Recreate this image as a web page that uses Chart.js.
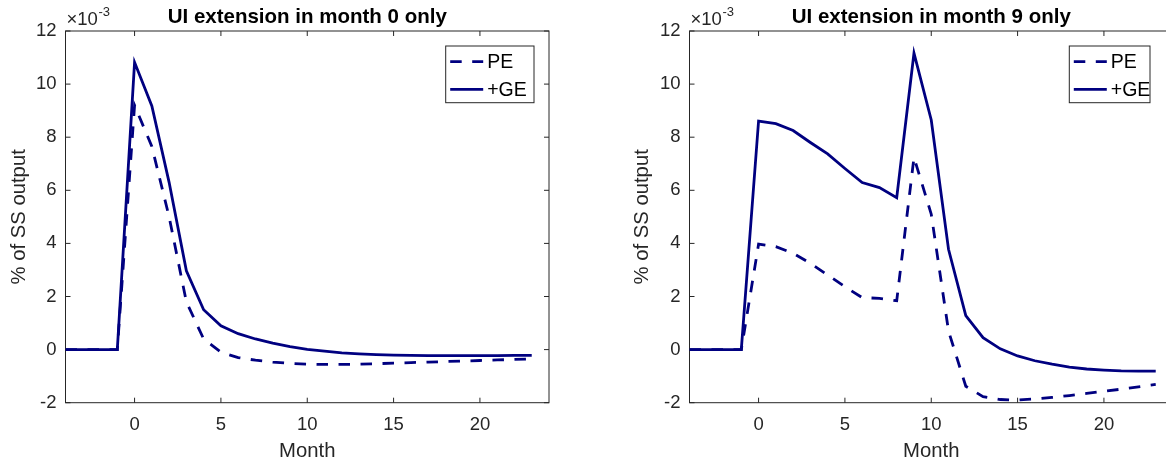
<!DOCTYPE html>
<html>
<head>
<meta charset="utf-8">
<script src="https://cdn.jsdelivr.net/npm/chart.js@4.4.1/dist/chart.umd.min.js"></script>
<style>
  html, body { margin: 0; padding: 0; background: #fff; overflow: hidden; width: 1166px; height: 463px; }
  .panel { position: absolute; top: 0; height: 463px; }
  #p1 { left: 0; width: 583px; }
  #p2 { left: 583px; width: 600px; }
</style>
</head>
<body>
<div class="panel" id="p1"><canvas id="c1"></canvas></div>
<div class="panel" id="p2"><canvas id="c2"></canvas></div>
<script>
// Months relative to the UI extension
const months = [-4, -3, -2, -1, 0, 1, 2, 3, 4, 5, 6, 7, 8, 9, 10, 11, 12, 13, 14, 15, 16, 17, 18, 19, 20, 21, 22, 23];
const xTicks = [0, 5, 10, 15, 20];
const yTicks = [-2, 0, 2, 4, 6, 8, 10, 12];
const seriesNames = ['PE', '+GE'];
const panelTitles = ['UI extension in month 0 only', 'UI extension in month 9 only'];

// Output response, % of steady-state output (x 10^-3)
const peMonth0 = [0, 0, 0, 0, 9.2, 7.65, 5.0, 1.8, 0.4, -0.1, -0.3, -0.4, -0.47, -0.52, -0.55, -0.56, -0.56, -0.55, -0.53, -0.51, -0.49, -0.47, -0.45, -0.43, -0.41, -0.39, -0.37, -0.35];
const geMonth0 = [0, 0, 0, 0, 10.82, 9.18, 6.3, 2.97, 1.5, 0.9, 0.6, 0.4, 0.24, 0.11, 0.01, -0.06, -0.12, -0.16, -0.19, -0.21, -0.22, -0.23, -0.23, -0.23, -0.23, -0.23, -0.22, -0.22];
const peMonth9 = [0, 0, 0, 0, 3.97, 3.88, 3.63, 3.25, 2.81, 2.37, 1.96, 1.93, 1.84, 7.24, 5.1, 0.7, -1.38, -1.77, -1.88, -1.9, -1.86, -1.8, -1.73, -1.65, -1.57, -1.49, -1.4, -1.31];
const geMonth9 = [0, 0, 0, 0, 8.61, 8.51, 8.25, 7.8, 7.37, 6.82, 6.29, 6.1, 5.72, 11.17, 8.65, 3.78, 1.28, 0.45, 0.03, -0.24, -0.42, -0.55, -0.66, -0.73, -0.77, -0.8, -0.81, -0.81];

const FONT = '"Liberation Sans", Arial, Helvetica, sans-serif';
const NAVY = '#000080';
const AXIS = '#262626';
const TICK_SIZE = 18.5;
const LABEL_SIZE = 20.3;

function points(values) {
  return months.map((m, i) => ({ x: m, y: values[i] }));
}

// Axes box with inward ticks on all four sides, exponent label, in-axes legend
const matlabAxes = {
  id: 'matlabAxes',
  beforeDatasetsDraw(chart) {
    const { ctx, chartArea: a, scales: { x, y } } = chart;
    ctx.save();
    ctx.strokeStyle = AXIS;
    ctx.lineWidth = 1;
    ctx.strokeRect(a.left, a.top, a.right - a.left, a.bottom - a.top);
    ctx.beginPath();
    const tl = 5;
    x.ticks.forEach(t => {
      const px = x.getPixelForValue(t.value);
      ctx.moveTo(px, a.bottom); ctx.lineTo(px, a.bottom - tl);
      ctx.moveTo(px, a.top); ctx.lineTo(px, a.top + tl);
    });
    y.ticks.forEach(t => {
      const py = y.getPixelForValue(t.value);
      ctx.moveTo(a.left, py); ctx.lineTo(a.left + tl, py);
      ctx.moveTo(a.right, py); ctx.lineTo(a.right - tl, py);
    });
    ctx.stroke();
    // exponent label
    ctx.fillStyle = AXIS;
    ctx.textBaseline = 'alphabetic';
    ctx.textAlign = 'left';
    ctx.font = TICK_SIZE + 'px ' + FONT;
    const base = '\u00D710';
    ctx.fillText(base, a.left + 1, a.top - 6);
    const w = ctx.measureText(base).width;
    ctx.font = '13px ' + FONT;
    ctx.fillText('-3', a.left + 1 + w + 0.5, a.top - 15);
    ctx.restore();
  },
  afterDatasetsDraw(chart, args, opts) {
    const { ctx, chartArea: a } = chart;
    const bw = opts.boxWidth, bh = 56.7;
    const bx = a.right - opts.rightGap - bw;
    const by = a.top + 15;
    ctx.save();
    ctx.fillStyle = '#fff';
    ctx.fillRect(bx, by, bw, bh);
    ctx.strokeStyle = AXIS;
    ctx.lineWidth = 1;
    ctx.strokeRect(bx, by, bw, bh);
    chart.data.datasets.forEach((ds, i) => {
      const cy = by + 15.7 + i * 27.6;
      ctx.beginPath();
      ctx.strokeStyle = ds.borderColor;
      ctx.lineWidth = ds.borderWidth;
      ctx.lineCap = 'butt';
      ctx.setLineDash(ds.borderDash || []);
      ctx.moveTo(bx + 4.5, cy);
      ctx.lineTo(bx + 37.5, cy);
      ctx.stroke();
      ctx.setLineDash([]);
      ctx.fillStyle = '#000';
      ctx.font = '19.5px ' + FONT;
      ctx.textBaseline = 'middle';
      ctx.textAlign = 'left';
      ctx.fillText(ds.label, bx + 41.5, cy + 1);
    });
    ctx.restore();
  }
};

function makeChart(canvasId, title, pe, ge, geo) {
  return new Chart(document.getElementById(canvasId), {
    type: 'line',
    data: {
      datasets: [
        { label: seriesNames[0], data: points(pe), borderColor: NAVY, borderWidth: 2.8, borderDash: [11.5, 10.5], borderCapStyle: 'butt', borderJoinStyle: 'miter', pointRadius: 0, tension: 0, fill: false },
        { label: seriesNames[1], data: points(ge), borderColor: NAVY, borderWidth: 2.8, borderCapStyle: 'butt', borderJoinStyle: 'miter', pointRadius: 0, tension: 0, fill: false }
      ]
    },
    options: {
      responsive: true,
      maintainAspectRatio: false,
      animation: false,
      events: [],
      layout: { padding: { left: geo.padLeft, right: geo.padRight, top: 0, bottom: 0 } },
      plugins: {
        legend: { display: false },
        tooltip: { enabled: false },
        title: {
          display: true, text: title, fullSize: false, color: '#000',
          font: { family: FONT, size: 20.5, weight: 'bold', lineHeight: 1.2 },
          padding: { top: 4.6, bottom: 1.8 }
        },
        matlabAxes: { boxWidth: geo.legendWidth, rightGap: geo.legendGap }
      },
      scales: {
        x: {
          type: 'linear', min: -4, max: 24,
          afterBuildTicks: s => { s.ticks = xTicks.map(v => ({ value: v })); },
          afterFit: s => { s.height = 60.3; },
          grid: { display: false, drawTicks: false },
          border: { display: false },
          ticks: { color: AXIS, font: { family: FONT, size: TICK_SIZE }, padding: 11, maxRotation: 0, autoSkip: false },
          title: { display: true, text: 'Month', color: AXIS, font: { family: FONT, size: LABEL_SIZE }, padding: { top: 0, bottom: -1 } }
        },
        y: {
          type: 'linear', min: -2, max: 12,
          afterBuildTicks: s => { s.ticks = yTicks.map(v => ({ value: v })); },
          afterFit: s => { s.width = geo.yWidth; },
          grid: { display: false, drawTicks: false },
          border: { display: false },
          ticks: { color: AXIS, font: { family: FONT, size: TICK_SIZE }, padding: 9, autoSkip: false },
          title: { display: true, text: '% of SS output', color: AXIS, font: { family: FONT, size: LABEL_SIZE }, padding: { top: 7.5, bottom: 0 } }
        }
      }
    },
    plugins: [matlabAxes]
  });
}

makeChart('c1', panelTitles[0], peMonth0, geMonth0, { padLeft: 0, padRight: 34, yWidth: 65.5, legendWidth: 88.3, legendGap: 15 });
makeChart('c2', panelTitles[1], peMonth9, geMonth9, { padLeft: 40, padRight: 10, yWidth: 66.5, legendWidth: 80.7, legendGap: 23 });
</script>
</body>
</html>
